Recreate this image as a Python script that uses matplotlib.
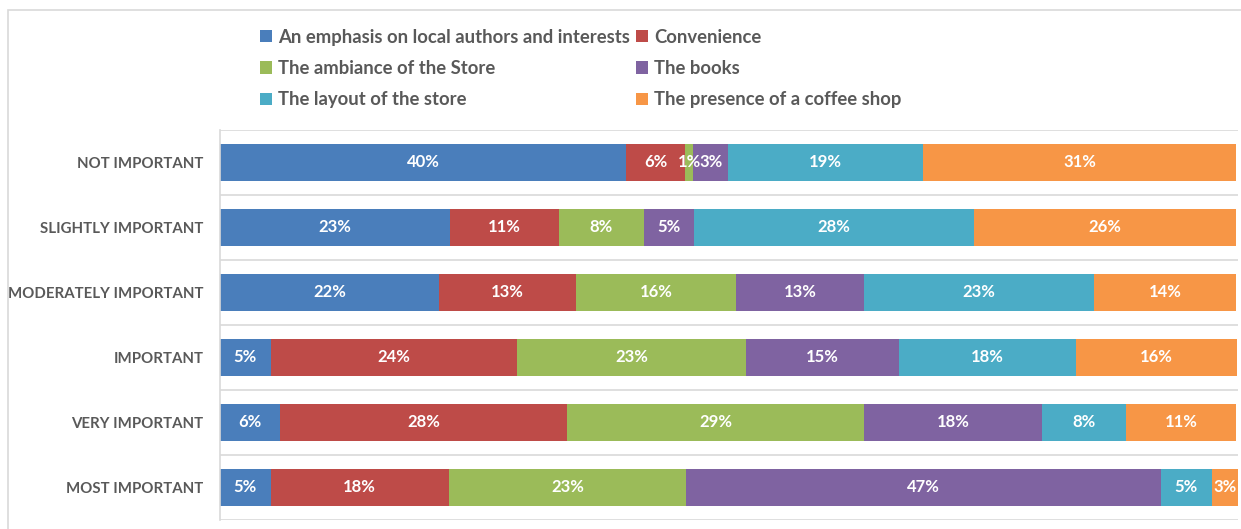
import matplotlib.pyplot as plt
import numpy as np
from matplotlib.patches import Rectangle

plt.rcParams['font.family'] = ['Lato', 'DejaVu Sans']

levels = ['NOT IMPORTANT', 'SLIGHTLY IMPORTANT', 'MODERATELY IMPORTANT',
          'IMPORTANT', 'VERY IMPORTANT', 'MOST IMPORTANT']

# share of answers (%) per factor, one value per importance level
local_authors = [40.0, 22.6, 21.6, 5.0, 5.9, 5.0]
convenience = [5.8, 10.8, 13.4, 24.2, 28.3, 17.5]
ambiance = [0.8, 8.3, 15.8, 22.6, 29.2, 23.4]
books = [3.4, 5.0, 12.6, 15.0, 17.5, 46.7]
layout = [19.2, 27.5, 22.6, 17.5, 8.3, 5.0]
coffee = [30.8, 25.8, 14.0, 15.8, 10.8, 2.6]

series = [
    ('An emphasis on local authors and interests', local_authors, '#4A7EBB'),
    ('Convenience', convenience, '#BE4B48'),
    ('The ambiance of the Store', ambiance, '#9BBB59'),
    ('The books', books, '#7F63A1'),
    ('The layout of the store', layout, '#4BACC6'),
    ('The presence of a coffee shop', coffee, '#F79646'),
]

fig = plt.figure(figsize=(12.41, 5.29), dpi=100)
ax = fig.add_axes([220 / 1241, 9 / 529, 1018 / 1241, 390 / 529])

# light frame around the chart
fig.patches.append(Rectangle((8 / 1241, -0.1), 1.2, 1 - 10 / 529 + 0.1,
                             transform=fig.transFigure, fill=False,
                             edgecolor='#D9D9D9', linewidth=1.2))

y = np.arange(len(levels))
left = np.zeros(len(levels))
handles = []
for name, vals, color in series:
    vals = np.array(vals)
    bars = ax.barh(y, vals, left=left, height=0.56, color=color, label=name)
    handles.append(bars)
    for yi, l, v in zip(y, left, vals):
        ax.text(l + v / 2, yi, f'{v:.0f}%', ha='center', va='center',
                color='white', fontsize=12, fontweight='bold')
    left += vals

ax.set_xlim(0, left.max())
ax.set_ylim(len(levels) - 0.5, -0.5)
for b in np.arange(-0.5, len(levels), 1):
    ax.axhline(b, color='#D9D9D9', linewidth=1.2, zorder=0)

ax.set_yticks(y)
ax.set_yticklabels(levels, fontsize=10.8, fontweight='bold', color='#595959')
ax.tick_params(axis='y', length=0, pad=12)
ax.set_xticks([])
for s in ['top', 'right', 'bottom']:
    ax.spines[s].set_visible(False)
ax.spines['left'].set_color('#D9D9D9')
ax.spines['left'].set_linewidth(1.2)

# legend: three rows, two columns
order = [0, 2, 4, 1, 3, 5]
leg = fig.legend([handles[i] for i in order], [series[i][0] for i in order],
                 ncol=2, loc='upper left', bbox_to_anchor=(243 / 1241, 1 - 12 / 529),
                 frameon=False, handlelength=0.65, handleheight=0.65,
                 handletextpad=0.35, columnspacing=0.3, labelspacing=0.78,
                 prop={'size': 13.3, 'weight': 'bold'})
for t in leg.get_texts():
    t.set_color('#595959')

fig.savefig('out.png', dpi=100)
